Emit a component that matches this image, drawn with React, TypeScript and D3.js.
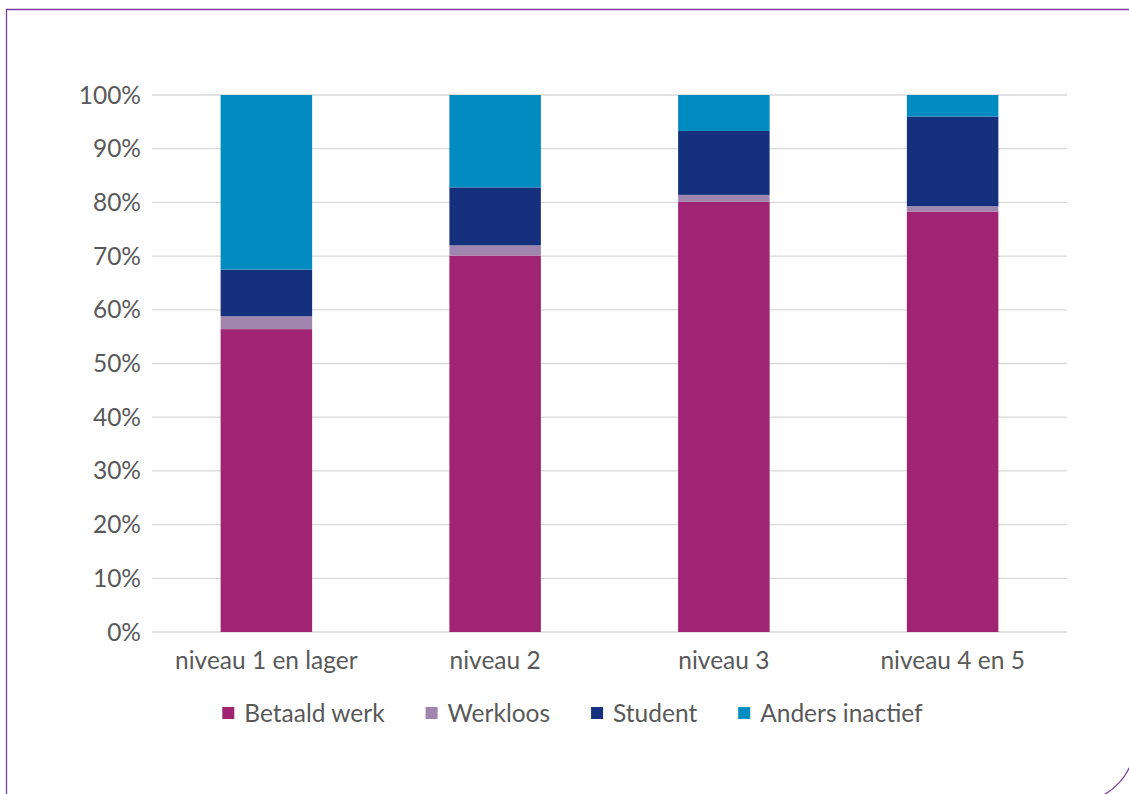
import React, { useEffect, useRef } from "react";
import * as d3 from "d3";

const categories = ["niveau 1 en lager", "niveau 2", "niveau 3", "niveau 4 en 5"];
const seriesNames = ["Betaald werk", "Werkloos", "Student", "Anders inactief"];
const betaaldWerk = [56.4, 70.1, 80.1, 78.3];
const werkloos = [2.4, 1.9, 1.3, 1.0];
const student = [8.7, 10.8, 11.9, 16.7];
const andersInactief = [32.5, 17.2, 6.7, 4.0];
const yTicks = [0, 10, 20, 30, 40, 50, 60, 70, 80, 90, 100];
const colors = ["#A12373", "#A086AF", "#15317E", "#008CC1"];

const W = 1129;
const H = 794;
const FONT = "Lato, 'Open Sans', sans-serif";
const FS = 24.5;

export default function App() {
  const ref = useRef<SVGSVGElement | null>(null);

  useEffect(() => {
    const svg = d3.select(ref.current);
    svg.selectAll("*").remove();

    const left = 152, right = 1067, top = 95, bottom = 632;
    const x = d3.scaleBand<string>().domain(categories).range([left, right]).paddingInner(0.6).paddingOuter(0.3);
    const y = d3.scaleLinear().domain([0, 100]).range([bottom, top]);

    // frame
    svg.append("path")
      .attr("d", "M6.5,800 L6.5,9.5 L1135,9.5")
      .attr("fill", "none").attr("stroke", "#7B3F98").attr("stroke-width", 1.3);
    svg.append("path")
      .attr("d", "M1131,764 Q1122,786 1100,797")
      .attr("fill", "none").attr("stroke", "#7B3F98").attr("stroke-width", 1.3);

    // gridlines
    svg.append("g").selectAll("line").data(yTicks).join("line")
      .attr("x1", left).attr("x2", right)
      .attr("y1", d => y(d)).attr("y2", d => y(d))
      .attr("stroke", "#D9D9D9").attr("stroke-width", 1.3);

    // y labels
    svg.append("g").selectAll("text").data(yTicks).join("text")
      .attr("x", left - 11).attr("y", d => y(d))
      .attr("dy", "0.35em").attr("text-anchor", "end")
      .attr("font-family", FONT).attr("font-size", FS).attr("fill", "#595959")
      .text(d => `${d}%`);

    const data = categories.map((c, i) => ({
      cat: c,
      "Betaald werk": betaaldWerk[i],
      "Werkloos": werkloos[i],
      "Student": student[i],
      "Anders inactief": andersInactief[i],
    }));
    const stacked = d3.stack<any>().keys(seriesNames)(data);

    svg.append("g").selectAll("g").data(stacked).join("g")
      .attr("fill", (_d, i) => colors[i])
      .selectAll("rect").data(d => d).join("rect")
      .attr("x", d => x(d.data.cat)!)
      .attr("width", x.bandwidth())
      .attr("y", d => y(d[1]))
      .attr("height", d => y(d[0]) - y(d[1]));

    // x labels
    svg.append("g").selectAll("text").data(categories).join("text")
      .attr("x", d => x(d)! + x.bandwidth() / 2).attr("y", 669)
      .attr("text-anchor", "middle")
      .attr("font-family", FONT).attr("font-size", FS).attr("fill", "#595959")
      .text(d => d);

    // legend
    const lg = svg.append("g");
    const items = lg.selectAll("g").data(seriesNames).join("g");
    items.append("rect").attr("width", 12).attr("height", 12).attr("y", 707)
      .attr("fill", (_d, i) => colors[i]);
    items.append("text").attr("x", 22).attr("y", 721.5)
      .attr("font-family", FONT).attr("font-size", FS).attr("fill", "#595959")
      .text(d => d);
    const widths: number[] = [];
    items.each(function () {
      const t = d3.select(this).select("text").node() as SVGTextElement;
      widths.push(22 + t.getComputedTextLength());
    });
    const gap = 41;
    const total = d3.sum(widths) + gap * (widths.length - 1);
    let cx = 572.5 - total / 2;
    items.each(function (_d, i) {
      d3.select(this).attr("transform", `translate(${cx},0)`);
      cx += widths[i] + gap;
    });
  }, []);

  return (
    <svg ref={ref} width={W} height={H} style={{ position: "absolute", left: 0, top: 0, background: "#fff" }} />
  );
}
